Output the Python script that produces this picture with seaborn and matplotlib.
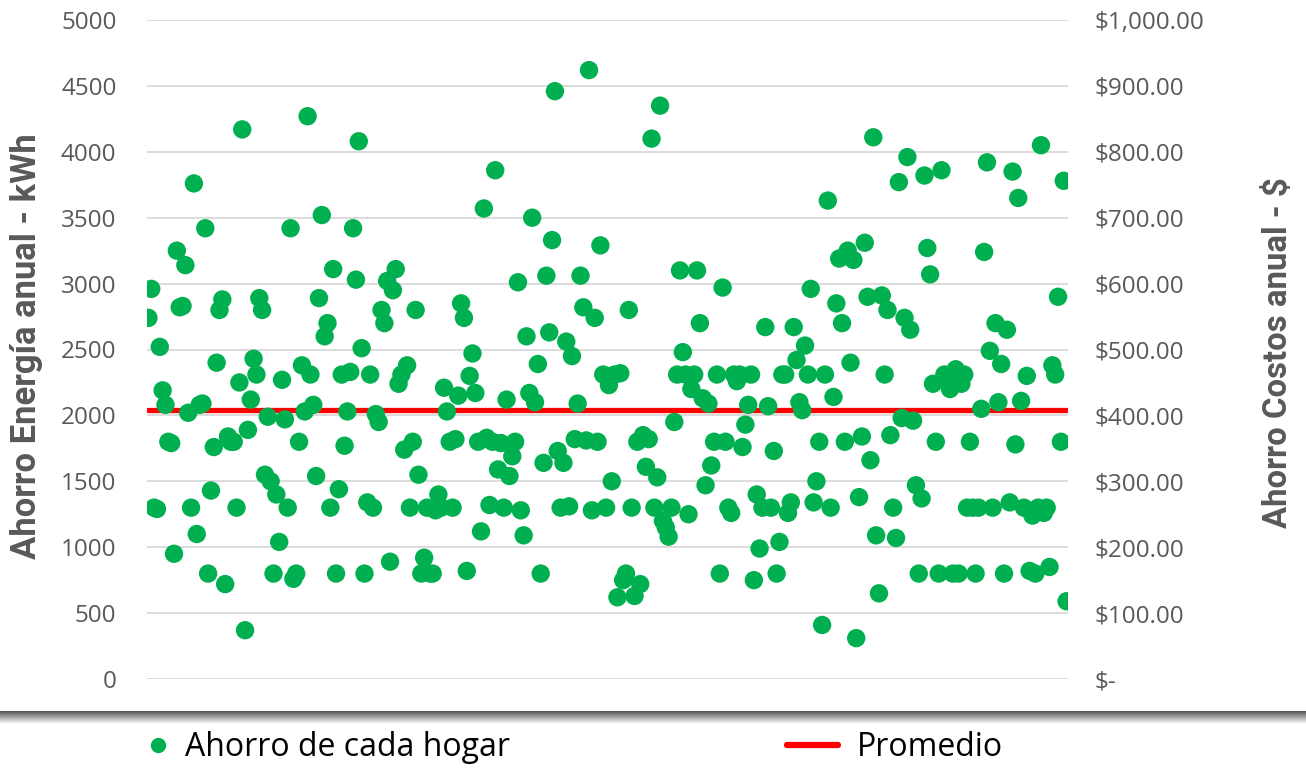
import numpy as np
import pandas as pd
import seaborn as sns
import matplotlib.pyplot as plt
from matplotlib import font_manager
from matplotlib.ticker import FuncFormatter, MultipleLocator
from matplotlib.lines import Line2D

# ahorro anual de energía por hogar (kWh), en el orden de los hogares
ahorro_kwh = [
    2740, 2960, 1300, 1290, 2520, 2190, 2080, 1800, 1790, 950,
    3250, 2820, 2830, 3140, 2020, 1300, 3760, 1100, 2080, 2090,
    3420, 800, 1430, 1760, 2400, 2800, 2880, 720, 1840, 1800,
    1800, 1300, 2250, 4170, 370, 1890, 2120, 2430, 2310, 2890,
    2800, 1550, 1990, 1500, 800, 1400, 1040, 2270, 1970, 1300,
    3420, 760, 800,
    1800, 2380, 2030, 4270, 2310, 2080, 1540, 2890, 3520, 2600,
    2700, 1300, 3110, 800, 1440, 2310, 1770, 2030, 2330, 3420,
    3030, 4080, 2510, 800, 1340, 2310, 1300, 2010, 1950, 2800,
    2700, 3020, 890, 2950, 3110, 2240, 2310, 1740, 2380, 1300,
    1800, 2800, 1550, 800, 920, 1300, 800, 800, 1280, 1400,
    1300, 2210,
    2030, 1800, 1300, 1820, 2150, 2850, 2740, 820, 2300, 2470,
    2170, 1800, 1120, 3570, 1830, 1320, 1800, 3860, 1590, 1790,
    1300, 2120, 1540, 1690, 1800, 3010, 1280, 1090, 2600, 2170,
    3500, 2100, 2390, 800, 1640, 3060, 2630, 3330, 4460, 1730,
    1300, 1640, 2560, 1310, 2450, 1820, 2090, 3060, 2820, 1810,
    4620, 1280, 2740, 1800,
    3290, 2310, 1300, 2230, 1500, 2310, 620, 2320, 750, 800,
    2800, 1300, 630, 1800, 720, 1850, 1610, 1820, 4100, 1300,
    1530, 4350, 1200, 1150, 1080, 1300, 1950, 2310, 3100, 2480,
    2310, 1250, 2200, 2310, 3100, 2700, 2130, 1470, 2090, 1620,
    1800, 2310, 800, 2970, 1800, 1300, 1260, 2310, 2260, 2310,
    1760, 1930,
    2080, 2310, 750, 1400, 990, 1300, 2670, 2070, 1300, 1730,
    800, 1040, 2310, 2310, 1260, 1340, 2670, 2420, 2100, 2040,
    2530, 2310, 2960, 1340, 1500, 1800, 410, 2310, 3630, 1300,
    2140, 2850, 3190, 2700, 1800, 3250, 2400, 3180, 310, 1380,
    1840, 3310, 2900, 1660, 4110, 1090, 650, 2910, 2310, 2800,
    1850, 1300,
    1070, 3770, 1980, 2740, 3960, 2650, 1960, 1470, 800, 1370,
    3820, 3270, 3070, 2240, 1800, 800, 3860, 2310, 2260, 2200,
    800, 2350, 800, 2240, 2310, 1300, 1800, 1300, 800, 1300,
    2050, 3240, 3920, 2490, 1300, 2700, 2100, 2390, 800, 2650,
    1340, 3850, 1780, 3650, 2110, 1300, 2300, 820, 1240, 800,
    1300, 4050, 1260, 1300, 850, 2380, 2310, 2900, 1800, 3780,
    590,
]
promedio_kwh = 2040
tope_kwh = 5000
tope_costo = 1000

verde = "#00B050"
rojo = "#FF0000"
gris = "#595959"

df = pd.DataFrame({"hogar": np.arange(1, len(ahorro_kwh) + 1), "ahorro": ahorro_kwh})
df["promedio"] = promedio_kwh

sns.set_theme(style="white")
plt.rcParams["font.family"] = ["Open Sans", "DejaVu Sans"]

# fuente angosta para los títulos de eje si existe
instaladas = {f.name for f in font_manager.fontManager.ttflist}
fuente_titulo = "Liberation Sans Narrow" if "Liberation Sans Narrow" in instaladas else "Roboto"

fig = plt.figure(figsize=(13.06, 7.68), dpi=100)
ax = fig.add_axes([147 / 1306, 1 - 679 / 768, 921 / 1306, 659 / 768])

sns.lineplot(data=df, x="hogar", y="promedio", ax=ax, color=rojo, lw=3.8, zorder=2)
sns.scatterplot(data=df, x="hogar", y="ahorro", ax=ax, color=verde, s=175,
                edgecolor="none", zorder=3, legend=False)

ax.set_xlim(0.5, len(ahorro_kwh) + 0.5)
ax.set_ylim(0, tope_kwh)
ax.yaxis.set_major_locator(MultipleLocator(500))
ax.set_xticks([])
ax.set_xlabel("")
ax.grid(axis="y", color="#d9d9d9", lw=1.3, zorder=0)
ax.set_axisbelow(True)
for s in ax.spines.values():
    s.set_visible(False)
ax.tick_params(axis="y", length=0, pad=22, labelsize=17.5, labelcolor=gris)
ylab = ax.set_ylabel("Ahorro Energía anual - kWh", fontsize=22, fontweight="bold",
                     color=gris, family=[fuente_titulo, "DejaVu Sans"])
ax.yaxis.set_label_coords(-0.113, 0.505)

ax2 = ax.twinx()
ax2.set_ylim(0, tope_costo)
ax2.yaxis.set_major_locator(MultipleLocator(100))
ax2.yaxis.set_major_formatter(FuncFormatter(lambda v, p: "$-" if v == 0 else f"${v:,.2f}"))
for s in ax2.spines.values():
    s.set_visible(False)
ax2.tick_params(axis="y", length=0, pad=19, labelsize=17.5, labelcolor=gris)
ylab2 = ax2.set_ylabel("Ahorro Costos anual - $", fontsize=22, fontweight="bold",
                       color=gris, rotation=90, family=[fuente_titulo, "DejaVu Sans"])
ax2.yaxis.set_label_coords(1.2106, 0.496)

# ajustar el tamaño de los títulos al largo que tienen en la referencia
fig.canvas.draw()
rend = fig.canvas.get_renderer()
for t, largo in [(ylab, 425), (ylab2, 350)]:
    h = t.get_window_extent(rend).height
    t.set_fontsize(t.get_fontsize() * largo / h)

# franja gris inferior con sombra
band = fig.add_axes([0, 1 - 724 / 768, 1, 13 / 768])
band.imshow(np.linspace(0.33, 1.0, 30).reshape(-1, 1), cmap="gray", vmin=0, vmax=1,
            aspect="auto", extent=(0, 1, 0, 1))
band.axis("off")

h1 = Line2D([], [], ls="none", marker="o", markersize=10, color=verde)
h2 = Line2D([], [], color=rojo, lw=4.5)
fig.legend([h1], ["Ahorro de cada hogar"], loc="center left",
           bbox_to_anchor=(142 / 1306, 1 - 748 / 768), frameon=False, fontsize=23,
           labelcolor="black", handlelength=1.0, handletextpad=0.35,
           borderpad=0, borderaxespad=0)
fig.legend([h2], ["Promedio"], loc="center left",
           bbox_to_anchor=(787 / 1306, 1 - 748 / 768), frameon=False, fontsize=23,
           labelcolor="black", handlelength=1.6, handletextpad=0.6,
           borderpad=0, borderaxespad=0)

fig.savefig("out.png", dpi=100)
